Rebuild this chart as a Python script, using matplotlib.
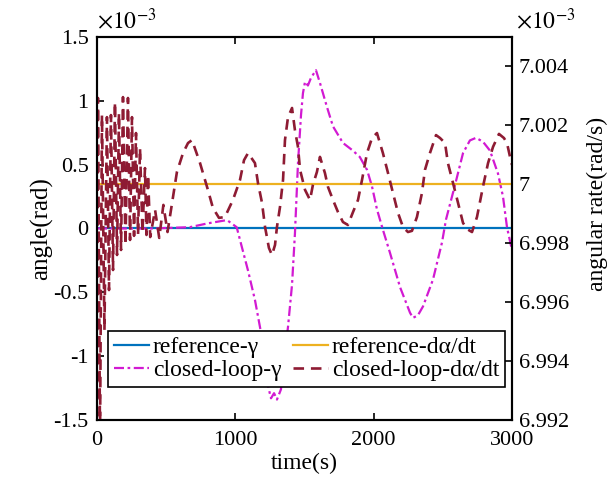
"""
Closed-loop attitude response: angle (left axis) and angular rate (right axis).
"""

import matplotlib

matplotlib.use("Agg")
import matplotlib.pyplot as plt

# --- data (axis units x1e-3) -------------------------------------------------
ref_t = [0, 3000]
ref_gamma = [0.0, 0.0]
ref_rate = [7.0, 7.0]

cl_gamma_t = [0, 400, 670, 800, 940, 1010, 1034, 1092, 1142, 1178, 1215, 1236,
              1258, 1280, 1301, 1330, 1352, 1381, 1410, 1431, 1453, 1475, 1489,
              1504, 1525, 1547, 1583, 1612, 1663, 1706, 1778, 1850, 1900, 1952,
              1988, 2024, 2067, 2118, 2191, 2263, 2284, 2320, 2357, 2429, 2494,
              2523, 2588, 2646, 2696, 2740, 2790, 2841, 2899, 2935, 2964, 3000]
cl_gamma = [0.0, 0.0, 0.01, 0.04, 0.066, 0.01, -0.09, -0.33, -0.56, -0.77, -0.99,
            -1.23, -1.33, -1.29, -1.34, -1.26, -1.03, -0.77, -0.44, -0.04, 0.51,
            0.89, 1.06, 1.15, 1.12, 1.18, 1.24, 1.14, 0.95, 0.80, 0.67, 0.61,
            0.56, 0.46, 0.33, 0.15, -0.01, -0.19, -0.46, -0.66, -0.70, -0.68,
            -0.61, -0.40, -0.11, 0.07, 0.34, 0.59, 0.69, 0.71, 0.68, 0.61, 0.43,
            0.25, 0.01, -0.17]

cl_rate_t = [0, 7, 22, 36, 54, 72, 87, 101, 116, 130, 145, 159, 174, 188, 206,
             224, 239, 253, 268, 282, 297, 311, 329, 347, 358, 369, 385, 420, 450,
             480, 510, 578, 622, 658, 687, 745, 802, 838, 882, 925, 983, 1034,
             1063, 1092, 1142, 1164, 1193, 1215, 1243, 1265, 1287, 1301, 1323,
             1345, 1359, 1381, 1410, 1431, 1453, 1468, 1504, 1540, 1561, 1590,
             1612, 1648, 1670, 1706, 1742, 1778, 1814, 1851, 1887, 1916, 1952,
             1988, 2024, 2067, 2104, 2140, 2176, 2212, 2248, 2277, 2313, 2349,
             2371, 2407, 2451, 2480, 2516, 2537, 2574, 2610, 2646, 2675, 2711,
             2747, 2790, 2827, 2863, 2906, 2942, 2964, 2986, 3000]
cl_rate = [6.9915, 7.00293, 6.99132, 7.00235, 6.99505, 7.00228, 6.99641, 7.00235,
           6.99709, 7.00279, 6.99760, 7.00242, 6.99777, 7.00296, 6.99794, 7.00293,
           6.99811, 7.00228, 6.99825, 7.00174, 6.99831, 7.00123, 6.99835, 7.00055,
           6.99828, 7.00032, 6.99821, 6.99913, 6.99818, 6.99930, 6.99838, 7.00042,
           7.00106, 7.00140, 7.00150, 7.00072, 6.99981, 6.99920, 6.99886, 6.99889,
           6.99947, 7.00015, 7.00082, 7.00106, 7.00072, 7.00004, 6.99937, 6.99855,
           6.99784, 6.99760, 6.99794, 6.99855, 6.99923, 7.00015, 7.00150, 7.00228,
           7.00259, 7.00184, 7.00127, 7.00049, 6.99981, 6.99947, 6.99998, 7.00042,
           7.00093, 7.00038, 6.99991, 6.99947, 6.99906, 6.99872, 6.99862, 6.99906,
           6.99947, 7.00015, 7.00106, 7.00157, 7.00174, 7.00106, 7.00038, 6.99970,
           6.99903, 6.99855, 6.99838, 6.99842, 6.99889, 6.99970, 7.00049, 7.00106,
           7.00167, 7.00157, 7.00140, 7.00072, 7.00004, 6.99937, 6.99869, 6.99848,
           6.99838, 6.99889, 6.99991, 7.00072, 7.00127, 7.00171, 7.00157, 7.00140,
           7.00093, 7.00066]

left_ticks = [-1.5, -1, -0.5, 0, 0.5, 1, 1.5]
left_ticklabels = ["-1.5", "-1", "-0.5", "0", "0.5", "1", "1.5"]
right_ticks = [6.992, 6.994, 6.996, 6.998, 7.0, 7.002, 7.004]
right_ticklabels = ["6.992", "6.994", "6.996", "6.998", "7", "7.002", "7.004"]
time_ticks = [0, 1000, 2000, 3000]

C_BLUE = "#0072BD"
C_YELLOW = "#EDB120"
C_MAGENTA = "#D21AD2"
C_RED = "#8E1B33"

plt.rcParams["font.family"] = ["Liberation Serif", "DejaVu Serif"]
plt.rcParams["mathtext.fontset"] = "stix"
FS = 16

fig = plt.figure(figsize=(6.13, 4.86), dpi=100)
ax = fig.add_axes([0.1582, 0.1358, 0.677, 0.7881])
ax2 = ax.twinx()

l1, = ax.plot(ref_t, ref_gamma, color=C_BLUE, lw=1.6, label="reference-γ")
l3, = ax.plot(cl_gamma_t, cl_gamma, color=C_MAGENTA, lw=1.6, ls=(0, (4.5, 1.6, 1.2, 1.6)),
              label="closed-loop-γ")
l2, = ax2.plot(ref_t, ref_rate, color=C_YELLOW, lw=1.6, label="reference-dα/dt")
l4, = ax2.plot(cl_rate_t, cl_rate, color=C_RED, lw=1.9, ls=(0, (4, 2.6)),
               label="closed-loop-dα/dt")

ax.set_xlim(0, 3000)
ax.set_ylim(-1.5, 1.5)
ax2.set_ylim(6.992, 7.005)

ax.set_xticks(time_ticks)
ax.set_yticks(left_ticks)
ax.set_yticklabels(left_ticklabels)
ax2.set_yticks(right_ticks)
ax2.set_yticklabels(right_ticklabels)

ax.tick_params(axis="both", direction="in", labelsize=FS, length=5, width=1.2, top=True)
ax.tick_params(axis="x", pad=8)
ax.tick_params(axis="y", right=False, pad=6)
ax2.tick_params(axis="y", direction="in", labelsize=FS, length=5, width=1.2, pad=5)
for a in (ax, ax2):
    for s in a.spines.values():
        s.set_linewidth(1.5)

ax.set_xlabel("time(s)", fontsize=17, labelpad=2)
ax.set_ylabel("angle(rad)", fontsize=18, labelpad=0)
ax2.set_ylabel("angular rate(rad/s)", fontsize=17)
ax2.yaxis.set_label_coords(1.18, 0.565)

ax.text(0.0, 1.01, r"$\times10^{-3}$", transform=ax.transAxes, fontsize=17,
        ha="left", va="bottom")
ax2.text(1.01, 1.01, r"$\times10^{-3}$", transform=ax2.transAxes, fontsize=17,
         ha="left", va="bottom")

# row 1: reference curves, row 2: closed-loop curves (legend fills columns first)
leg = ax2.legend(handles=[l1, l3, l2, l4], ncol=2, loc="lower left",
                 bbox_to_anchor=(0.026, 0.086), fontsize=17, frameon=True,
                 fancybox=False, edgecolor="black", framealpha=1,
                 handlelength=1.5, handletextpad=0.15, columnspacing=0.5,
                 borderpad=0.25, labelspacing=0.05, borderaxespad=0)
leg.get_frame().set_linewidth(1.2)

fig.savefig("out.png", dpi=100)
